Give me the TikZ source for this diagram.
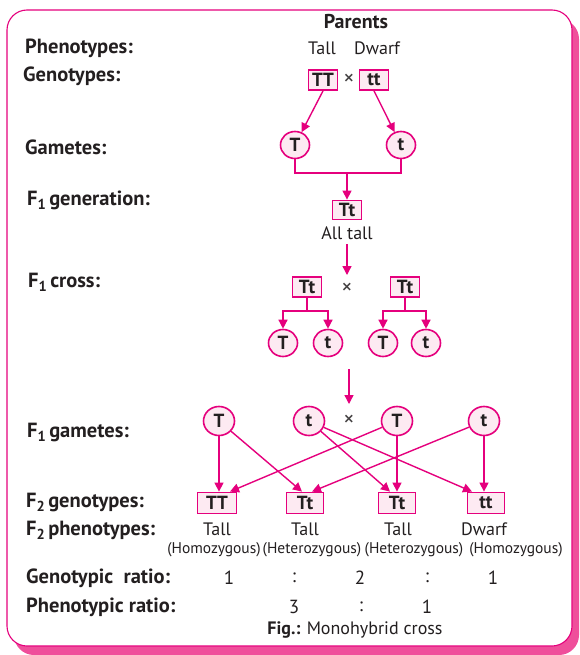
\documentclass[tikz,border=0pt]{standalone}
\usepackage{fontspec}
\setmainfont{PT Sans}
\usetikzlibrary{arrows.meta,shapes.geometric}
\definecolor{pk}{HTML}{E5007D}
\definecolor{pkfill}{HTML}{FDEAF2}
\definecolor{pkshadow}{HTML}{EF4F9B}
\definecolor{ink}{HTML}{231F20}
\newcommand\sbi[1]{\raisebox{-0.4ex}{\fontsize{14.5}{14}\selectfont #1}\,}
\begin{document}
\begin{tikzpicture}[x=1pt,y=-1pt,
 lbl/.style={anchor=west,font=\fontsize{20.5}{20}\selectfont\bfseries,text=ink,inner sep=0},
 gbox/.style={draw=pk,fill=pkfill,line width=1.8pt,inner sep=0,minimum width=29pt,minimum height=20pt,font=\fontsize{19}{18}\selectfont\bfseries,text=ink},
 bigbox/.style={gbox,minimum width=37pt,minimum height=21pt},
 gam/.style={ellipse,draw=pk,fill=pkfill,line width=1.6pt,inner sep=0,minimum width=29pt,minimum height=27pt,font=\fontsize{19}{18}\selectfont\bfseries,text=ink},
 gam2/.style={gam,minimum width=31pt,minimum height=29pt},
 arr/.style={draw=pk,line width=1.4pt,-{Triangle[length=9pt,width=9pt]}},
 ln/.style={draw=pk,line width=1.4pt},
 txt/.style={font=\fontsize{18}{18}\selectfont,inner sep=0,text=ink},
 times/.style={font=\fontsize{22}{18}\selectfont,inner sep=0,text=ink!85},
 num/.style={font=\fontsize{19}{18}\selectfont,inner sep=0,text=ink},
 small/.style={font=\fontsize{15.5}{14}\selectfont,inner sep=0,text=ink},
]
\useasboundingbox (0,0) rectangle (579,655);
% frame with shadow
\fill[pkshadow,rounded corners=20pt] (14,19) rectangle (579,655);
\draw[pk,fill=white,line width=1.1pt,rounded corners=20pt] (7,10) rectangle (572,646);

% left labels
\node[font=\fontsize{20}{20}\selectfont\bfseries,text=ink,inner sep=0] (parents) at (356,22) {Parents};
\node[lbl] (lphen) at (25,48) {Phenotypes:};
\node[lbl] (lgeno) at (23,76) {Genotypes:};
\node[lbl] (lgam) at (25,147) {Gametes:};
\node[lbl] (lf1gen) at (27,200) {F\sbi{1}generation:};
\node[lbl] (lf1cross) at (28,282) {F\sbi{1}cross:};
\node[lbl] (lf1gam) at (27,432) {F\sbi{1}gametes:};
\node[lbl] (lf2gen) at (26,502) {F\sbi{2}genotypes:};
\node[lbl] (lf2phen) at (26,530) {F\sbi{2}phenotypes:};
\node[lbl] (lgr) at (26,578) {Genotypic\ \ ratio:};
\node[lbl] (lpr) at (26,607) {Phenotypic ratio:};

% parents
\node[txt] (tall0) at (322,48) {Tall};
\node[txt] (dwarf0) at (377,48) {Dwarf};
\node[gbox] (TT) at (323,80) {TT};
\node[times] (x0) at (349,80) {×};
\node[gbox] (tt) at (374,80) {tt};

% gametes
\node[gam] (gT) at (295,145) {T};
\node[gam] (gt) at (401,145) {t};
\draw[arr] (TT.south) -- (gT);
\draw[arr] (tt.south) -- (gt);
\coordinate (j1) at (347,173);
\node[gbox,minimum height=19pt] (F1) at (347,210) {Tt};
\draw[ln] (gT.south) |- (j1) -| (gt.south);
\draw[arr] (j1) -- (F1.north);
\node[txt] (alltall) at (347,233) {All tall};
\coordinate (a0) at (347,244);
\coordinate (a1) at (347,275);
\draw[arr] (a0) -- (a1);

% F1 cross
\node[gbox] (c1) at (307,287) {Tt};
\node[times] (x1) at (347,289) {×};
\node[gbox] (c2) at (405,287) {Tt};
\node[gam] (m1) at (283,343) {T};
\node[gam] (m2) at (328,343) {t};
\node[gam] (m3) at (383,343) {T};
\node[gam] (m4) at (426,343) {t};
\coordinate (j2) at (307,311);
\coordinate (j3) at (405,311);
\draw[ln] (c1.south) -- (j2);
\draw[ln] (c2.south) -- (j3);
\draw[arr] (j2) -| (m1);
\draw[arr] (j2) -| (m2);
\draw[arr] (j3) -| (m3);
\draw[arr] (j3) -| (m4);
\coordinate (b0) at (349,369);
\coordinate (b1) at (349,404);
\draw[arr] (b0) -- (b1);

% F1 gametes
\node[gam2] (n1) at (219,421) {T};
\node[gam2] (n2) at (309,421) {t};
\node[times] (x2) at (349,421) {×};
\node[gam2] (n3) at (397,421) {T};
\node[gam2] (n4) at (484,421) {t};

% F2 genotypes
\node[bigbox,minimum width=39pt] (o1) at (217,503) {TT};
\node[bigbox] (o2) at (305,503) {Tt};
\node[bigbox] (o3) at (397,503) {Tt};
\node[bigbox] (o4) at (486,503) {tt};

\draw[arr] (n1) -- (n1 |- o1.north);
\draw[arr] (n1) -- ([xshift=-3pt]o2.north);
\draw[arr] (n2) -- ([xshift=-7pt]o3.north);
\draw[arr] (n2) -- ([xshift=-14pt]o4.north);
\draw[arr] (n3) -- ([xshift=13pt]o1.north);
\draw[arr] (n3) -- (n3 |- o3.north);
\draw[arr] (n4) -- ([xshift=7pt]o2.north);
\draw[arr] (n4) -- (n4 |- o4.north);

% F2 phenotypes
\node[txt] (p1) at (217,529) {Tall};
\node[txt] (p2) at (305,529) {Tall};
\node[txt] (p3) at (398,529) {Tall};
\node[txt] (p4) at (484,529) {Dwarf};
\node[small] (h1) at (214,550) {(Homozygous)};
\node[small] (h2) at (312,550) {(Heterozygous)};
\node[small] (h3) at (414,550) {(Heterozygous)};
\node[small] (h4) at (516,550) {(Homozygous)};

% ratios
\node[num] (g1) at (229,578) {1};
\node[num] (g2) at (294,578) {:};
\node[num] (g3) at (360,578) {2};
\node[num] (g4) at (427,578) {:};
\node[num] (g5) at (493,578) {1};
\node[num] (r1) at (294,607) {3};
\node[num] (r2) at (361,607) {:};
\node[num] (r3) at (427,607) {1};
\node[txt] (cap) at (355,630) {\textbf{Fig.:} Monohybrid cross};
\end{tikzpicture}
\end{document}
